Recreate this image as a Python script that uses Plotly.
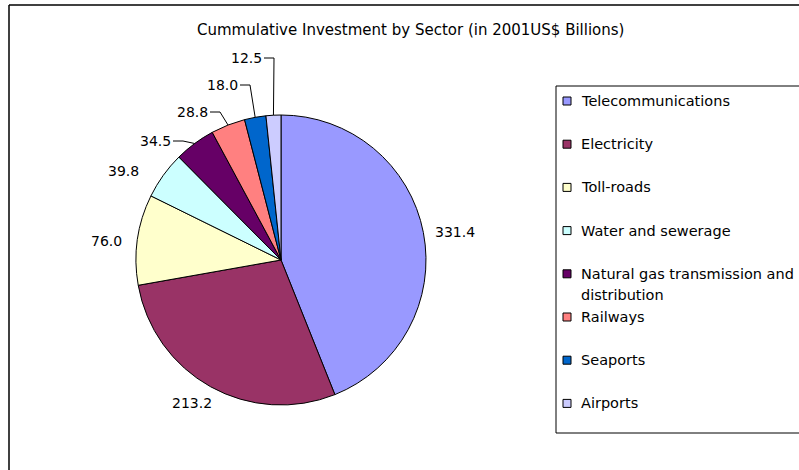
import math
import plotly.graph_objects as go

# Cumulative private investment by infrastructure sector (2001 US$ billions)
sectors = [
    "Telecommunications",
    "Electricity",
    "Toll-roads",
    "Water and sewerage",
    "Natural gas transmission and distribution",
    "Railways",
    "Seaports",
    "Airports",
]
investment = [331.4, 213.2, 76.0, 39.8, 34.5, 28.8, 18.0, 12.5]
slice_colors = ["#9999FF", "#993366", "#FFFFCC", "#CCFFFF",
                "#660066", "#FF8080", "#0066CC", "#CCCCFF"]

W, H = 799, 470
FONT = "DejaVu Sans"

# pie geometry in pixels
cx, cy, r = 281, 260, 145

# value-label offsets from the pie centre (px) and which labels get leader lines
label_offsets = [(174, -28), (-89, 143), (-175, -19), (-158, -89),
                 (-126, -119), (-89, -148), (-59, -175), (-35, -202)]
has_leader = [False, False, False, False, True, True, True, True]

fig = go.Figure()
fig.add_trace(go.Pie(
    labels=sectors,
    values=investment,
    sort=False,
    direction="clockwise",
    rotation=0,
    textinfo="none",
    hoverinfo="label+value",
    marker=dict(colors=slice_colors, line=dict(color="black", width=1)),
    domain=dict(x=[(cx - r) / W, (cx + r) / W],
                y=[1 - (cy + r) / H, 1 - (cy - r) / H]),
    showlegend=False,
))

shapes = []
annotations = []

# value labels, placed around the slices' mid-angles
total = sum(investment)
cum = 0.0
for val, (dx, dy), lead in zip(investment, label_offsets, has_leader):
    mid = (cum + val / 2) / total * 2 * math.pi
    cum += val
    lx, ly = cx + dx, cy + dy
    annotations.append(dict(x=lx, y=ly, xref="x", yref="y", text=f"{val:.1f}",
                            showarrow=False, font=dict(size=14, color="black", family=FONT),
                            xanchor="center", yanchor="middle"))
    if lead:
        ex = cx + r * math.sin(mid)
        ey = cy - r * math.cos(mid)
        x0 = lx + 18
        elbow = x0 + 10
        shapes.append(dict(type="path", xref="x", yref="y",
                           path=f"M {x0},{ly} L {elbow},{ly} L {ex},{ey}",
                           line=dict(color="black", width=1)))

# legend box with colour swatches
lg_x0, lg_y0, lg_y1 = 556, 86, 433
shapes.append(dict(type="rect", xref="x", yref="y", x0=lg_x0, y0=lg_y0, x1=W + 20, y1=lg_y1,
                   line=dict(color="black", width=1), fillcolor="rgba(0,0,0,0)"))
step = 43.2
line_gap = 21
for i, (name, col) in enumerate(zip(sectors, slice_colors)):
    yc = lg_y0 + 15 + step * i
    shapes.append(dict(type="rect", xref="x", yref="y", x0=563, x1=571, y0=yc - 4, y1=yc + 4,
                       line=dict(color="black", width=1), fillcolor=col))
    lines = ([name[:name.index(" and ") + 4], name[name.index(" and ") + 5:]]
             if name.startswith("Natural") else [name])
    for j, ln in enumerate(lines):
        annotations.append(dict(x=579, y=yc + j * line_gap, xref="x", yref="y", text=ln,
                                showarrow=False, xanchor="left", yanchor="middle",
                                font=dict(size=14.5, color="black", family=FONT)))

# chart-area frame (top and left edges)
shapes.append(dict(type="line", xref="x", yref="y", x0=9, x1=W + 5, y0=5, y1=5,
                   line=dict(color="black", width=1.5)))
shapes.append(dict(type="line", xref="x", yref="y", x0=9, x1=9, y0=5, y1=H + 5,
                   line=dict(color="black", width=1.5)))

# title
annotations.append(dict(x=410, y=30, xref="x", yref="y",
                        text="Cummulative Investment by Sector (in 2001US$ Billions)",
                        showarrow=False, xanchor="center", yanchor="middle",
                        font=dict(size=15, color="black", family=FONT)))

fig.update_layout(
    width=W, height=H,
    margin=dict(l=0, r=0, t=0, b=0),
    paper_bgcolor="white", plot_bgcolor="white",
    xaxis=dict(range=[0, W], visible=False, domain=[0, 1], fixedrange=True),
    yaxis=dict(range=[H, 0], visible=False, domain=[0, 1], fixedrange=True),
    shapes=shapes,
    annotations=annotations,
    font=dict(family=FONT, color="black"),
)

fig.write_html("out.html")
